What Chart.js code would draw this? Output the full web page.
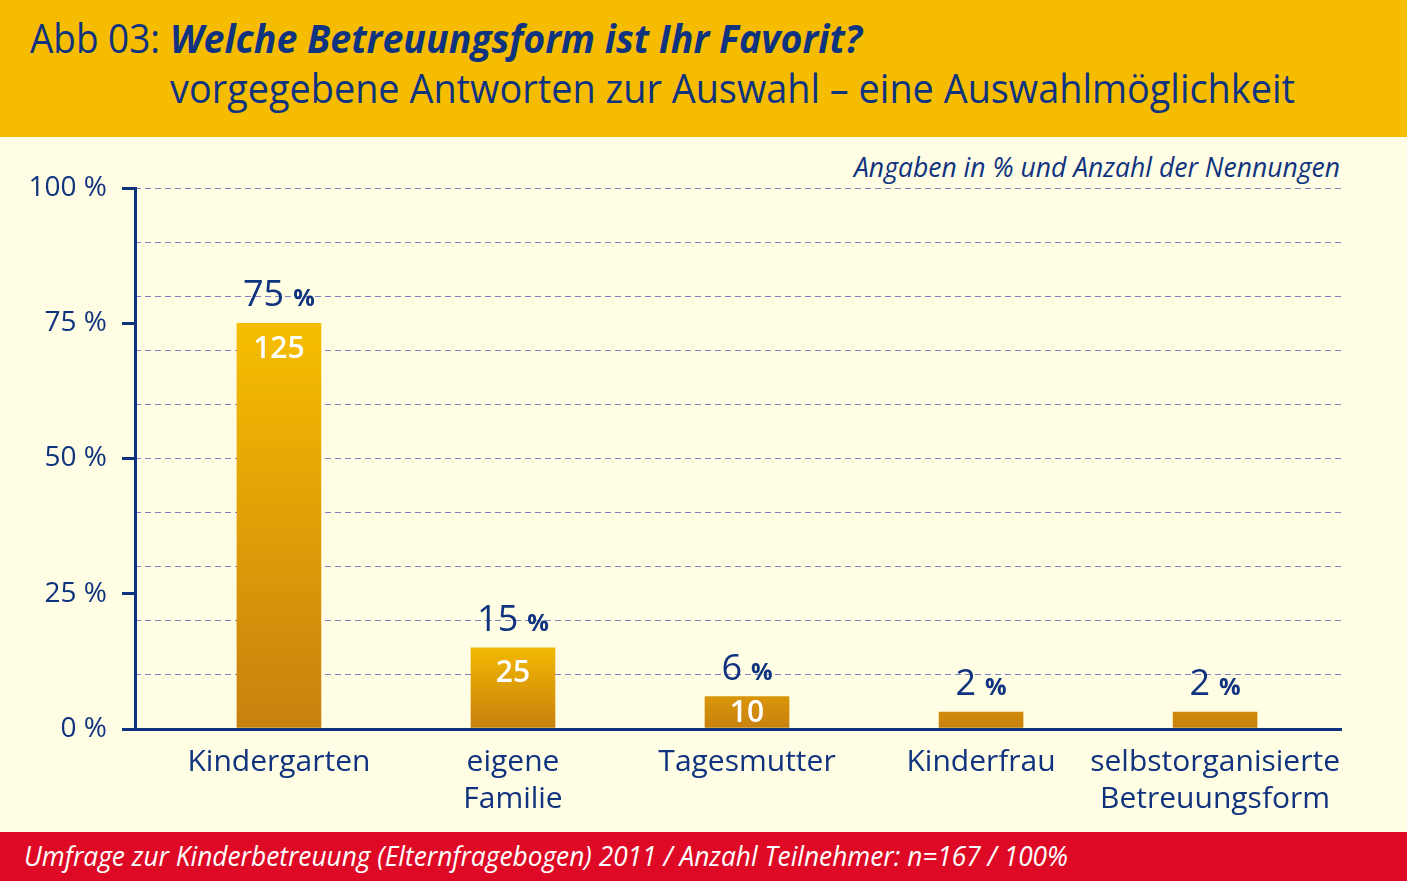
<!DOCTYPE html>
<html lang="de">
<head>
<meta charset="utf-8">
<script src="https://cdn.jsdelivr.net/npm/chart.js@4.4.1/dist/chart.umd.min.js"></script>
<style>
  html, body { margin:0; padding:0; }
  body { width:1407px; height:881px; position:relative; overflow:hidden; background:#FFFDE3; font-family:"Open Sans", sans-serif; }
  #header { position:absolute; left:0; top:0; width:1407px; height:137px; background:#F6BD00; }
  #footer { position:absolute; left:0; top:832px; width:1407px; height:49px; background:#DE0A25; }
  .txt { position:absolute; white-space:nowrap; line-height:1; transform-origin:0 0; display:inline-block; color:#0F337F; }
  #chartWrap { position:absolute; left:0; top:0; width:1407px; height:881px; }
</style>
</head>
<body>
<div id="header"></div>
<div id="footer"></div>
<span class="txt" id="t1a" data-w="130" style="left:30px; top:18px; font-size:40px;">Abb 03:</span>
<span class="txt" id="t1b" data-w="692" style="left:170px; top:18px; font-size:40px; font-weight:700; font-style:italic;">Welche Betreuungsform ist Ihr Favorit?</span>
<span class="txt" id="t2" data-w="1125" style="left:170px; top:68px; font-size:40px;">vorgegebene Antworten zur Auswahl – eine Auswahlmöglichkeit</span>
<span class="txt" id="note" data-w="486" style="left:854px; top:153px; font-size:27px; font-style:italic;">Angaben in % und Anzahl der Nennungen</span>
<span class="txt" id="foot" data-w="1044" style="left:24px; top:842px; font-size:27px; font-style:italic; color:#FFFFFF;">Umfrage zur Kinderbetreuung (Elternfragebogen) 2011 / Anzahl Teilnehmer: n=167 / 100%</span>
<div id="chartWrap"><canvas id="c" width="1407" height="881"></canvas></div>
<script>
// ---- data ----
const categories = [["Kindergarten"], ["eigene", "Familie"], ["Tagesmutter"], ["Kinderfrau"], ["selbstorganisierte", "Betreuungsform"]];
const percentValues = [75, 15, 6, 2, 2];
const countValues = [125, 25, 10, null, null];
const yTickValues = [0, 25, 50, 75, 100];

// ---- fit header/footer text widths ----
function fitTexts() {
  document.querySelectorAll('.txt[data-w]').forEach(el => {
    el.style.transform = 'none';
    const w = el.getBoundingClientRect().width;
    const target = parseFloat(el.dataset.w);
    if (w > 0) el.style.transform = 'scaleX(' + (target / w) + ')';
  });
}

const BLUE = '#0F337F';
const FONT = '"Open Sans", sans-serif';

const barLabels = {
  id: 'barLabels',
  afterDatasetsDraw(chart) {
    const ctx = chart.ctx;
    const meta = chart.getDatasetMeta(0);
    const base = chart.scales.y.getPixelForValue(0);
    meta.data.forEach((bar, i) => {
      const x = bar.x, top = bar.y;
      const num = String(percentValues[i]);
      ctx.save();
      ctx.textBaseline = 'alphabetic';
      ctx.font = '36px ' + FONT;
      const wNum = ctx.measureText(num).width;
      ctx.font = '700 24px ' + FONT;
      const wPct = ctx.measureText('%').width;
      const gap = 9;
      const total = wNum + gap + wPct;
      const by = top - 17;
      ctx.fillStyle = BLUE;
      ctx.textAlign = 'left';
      ctx.font = '36px ' + FONT;
      ctx.fillText(num, x - total / 2, by);
      ctx.font = '700 24px ' + FONT;
      ctx.fillText('%', x - total / 2 + wNum + gap, by);
      if (countValues[i] != null) {
        ctx.font = '600 30px ' + FONT;
        ctx.fillStyle = '#FFFFFF';
        ctx.textAlign = 'center';
        ctx.textBaseline = 'middle';
        const cy = Math.min(top + 26, base - 16);
        ctx.fillText(String(countValues[i]), x, cy);
      }
      ctx.restore();
    });
  }
};

function barGradient(context) {
  const chart = context.chart;
  const area = chart.chartArea;
  if (!area) return '#E0A000';
  const y = chart.scales.y;
  const v = context.raw && context.raw.y != null ? context.raw.y : 0;
  const base = y.getPixelForValue(0);
  const top = y.getPixelForValue(v);
  const start = Math.min(top, base - 90);
  const g = chart.ctx.createLinearGradient(0, start, 0, base);
  g.addColorStop(0, '#F6BE00');
  g.addColorStop(1, '#C8800F');
  return g;
}

function start() {
  fitTexts();
  new Chart(document.getElementById('c'), {
    type: 'bar',
    data: {
      datasets: [{
        data: percentValues.map((v, i) => ({ x: i, y: v })),
        backgroundColor: barGradient,
        borderWidth: 0,
        barThickness: 84,
        minBarLength: 17,
        yAxisID: 'y',
        xAxisID: 'x'
      }]
    },
    options: {
      responsive: false,
      animation: false,
      events: [],
      layout: { padding: { left: 0, right: 66, top: 188, bottom: 0 } },
      plugins: { legend: { display: false }, tooltip: { enabled: false }, title: { display: false } },
      scales: {
        x: {
          type: 'linear',
          position: 'bottom',
          offset: false,
          bounds: 'data',
          min: -0.615,
          max: categories.length - 1 + 0.538,
          z: 1,
          afterBuildTicks: (s) => { s.ticks = categories.map((c, i) => ({ value: i })); },
          afterFit: (s) => { s.height = 152; },
          grid: { display: false, drawTicks: false, offset: false },
          border: { display: true, color: BLUE, width: 3 },
          ticks: {
            autoSkip: false, maxRotation: 0, padding: 15,
            color: BLUE,
            font: { family: FONT, size: 30, lineHeight: 1.233 },
            callback: (v) => categories[v]
          }
        },
        y: {
          type: 'linear',
          position: 'left',
          min: 0, max: 100,
          afterBuildTicks: (s) => { s.ticks = yTickValues.map(v => ({ value: v })); },
          afterFit: (s) => { s.width = 135; },
          grid: { drawOnChartArea: false, drawTicks: true, tickLength: 13, lineWidth: 3, color: BLUE, tickColor: BLUE, tickWidth: 3 },
          border: { display: true, color: BLUE, width: 3 },
          ticks: {
            padding: 15, color: BLUE,
            font: { family: FONT, size: 28 },
            callback: (v) => v + ' %'
          }
        },
        yGrid: {
          type: 'linear',
          position: 'right',
          min: 0, max: 100,
          ticks: { display: false, stepSize: 10 },
          afterFit: (s) => { s.width = 0; },
          grid: {
            drawTicks: false,
            lineWidth: 1,
            color: (c) => (c.tick && c.tick.value === 0) ? 'rgba(0,0,0,0)' : '#7F80C0'
          },
          border: { display: false, dash: [6, 4] }
        }
      }
    },
    plugins: [barLabels]
  });
}

if (document.fonts && document.fonts.ready) {
  document.fonts.load('40px "Open Sans"').then(() => document.fonts.ready).then(start, start);
} else { start(); }
</script>
</body>
</html>
